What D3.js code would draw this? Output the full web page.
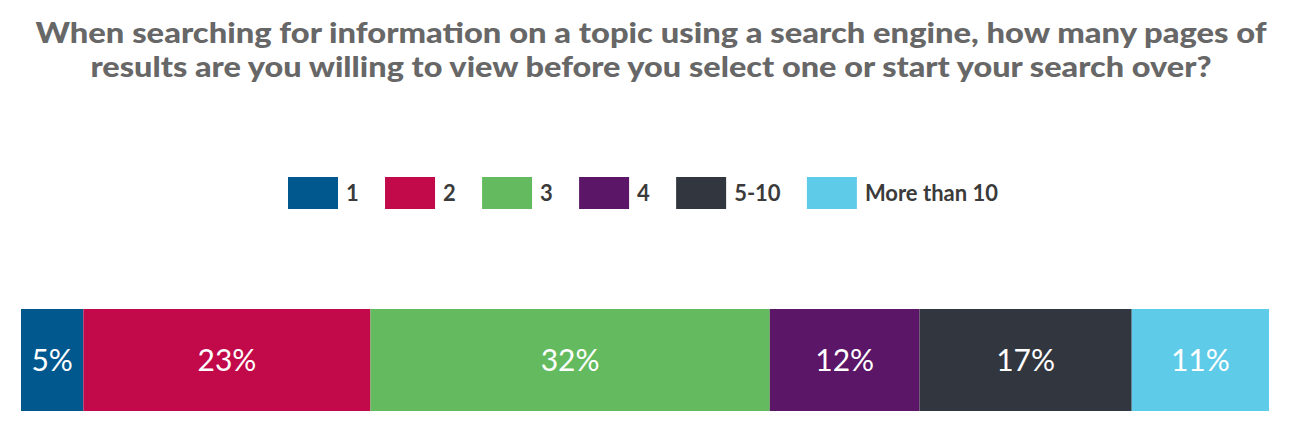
<!DOCTYPE html>
<html>
<head>
<meta charset="utf-8">
<script src="https://cdn.jsdelivr.net/npm/d3@7"></script>
<style>
  body { margin: 0; background: #fff; }
  text { font-family: "Lato", "Open Sans", sans-serif; }
</style>
</head>
<body>
<div id="chart"></div>
<script>
const width = 1304, height = 446;

// data
const titleLines = [
	"When searching for information on a topic using a search engine, how many pages of",
	"results are you willing to view before you select one or start your search over?"
];
const categories = ["1", "2", "3", "4", "5-10", "More than 10"];
const shares = [5, 23, 32, 12, 17, 11];
const colors = ["#00588f", "#c20a4a", "#64bb5f", "#5b1667", "#32363e", "#5ecbe8"];

const svg = d3.select("#chart")
	.append("svg")
	.attr("width", width)
	.attr("height", height);

// title, stretched to the measured line widths of the reference
const titleWidths = [1231, 1121];
svg.append("g")
	.selectAll("text")
	.data(titleLines)
	.enter()
	.append("text")
	.attr("x", width / 2 - 1)
	.attr("y", (d, i) => 43 + i * 34)
	.attr("text-anchor", "middle")
	.attr("fill", "#676767")
	.attr("font-size", 28)
	.attr("font-weight", 900)
	.attr("textLength", (d, i) => titleWidths[i])
	.attr("lengthAdjust", "spacingAndGlyphs")
	.text(d => d);

// legend
const legend = svg.append("g").attr("id", "legend");
const items = legend.selectAll(".item")
	.data(categories)
	.enter()
	.append("g")
	.classed("item", true);

items.append("rect")
	.attr("width", 50)
	.attr("height", 32)
	.attr("fill", (d, i) => colors[i]);

items.append("text")
	.attr("x", 58)
	.attr("y", 16)
	.attr("dy", "0.35em")
	.attr("font-size", 22)
	.attr("font-weight", 700)
	.attr("fill", "#3b3b3b")
	.text(d => d);

// lay the items out in a row spanning 288..998
const widths = [];
items.each(function() {
	widths.push(58 + this.querySelector("text").getComputedTextLength());
});
const legendLeft = 288, legendRight = 998;
const gap = (legendRight - legendLeft - d3.sum(widths)) / (categories.length - 1);
let cx = legendLeft;
items.attr("transform", (d, i) => {
	const t = `translate(${cx},177)`;
	cx += widths[i] + gap;
	return t;
});

// stacked bar
const x = d3.scaleLinear()
	.domain([0, d3.sum(shares)])
	.range([21, 1269]);

const y = d3.scaleBand()
	.domain(["all"])
	.range([309, 411]);

const starts = d3.cumsum([0].concat(shares)).slice(0, shares.length);

const bar = svg.append("g").attr("id", "bar");

bar.selectAll("rect")
	.data(shares)
	.enter()
	.append("rect")
	.attr("x", (d, i) => x(starts[i]))
	.attr("y", y("all"))
	.attr("width", (d, i) => x(starts[i] + d) - x(starts[i]))
	.attr("height", y.bandwidth())
	.attr("fill", (d, i) => colors[i]);

bar.selectAll("text")
	.data(shares)
	.enter()
	.append("text")
	.attr("x", (d, i) => (x(starts[i]) + x(starts[i] + d)) / 2)
	.attr("y", y("all") + y.bandwidth() / 2)
	.attr("dy", "0.36em")
	.attr("text-anchor", "middle")
	.attr("fill", "#fff")
	.attr("font-size", 30)
	.text(d => d + "%");
</script>
</body>
</html>
